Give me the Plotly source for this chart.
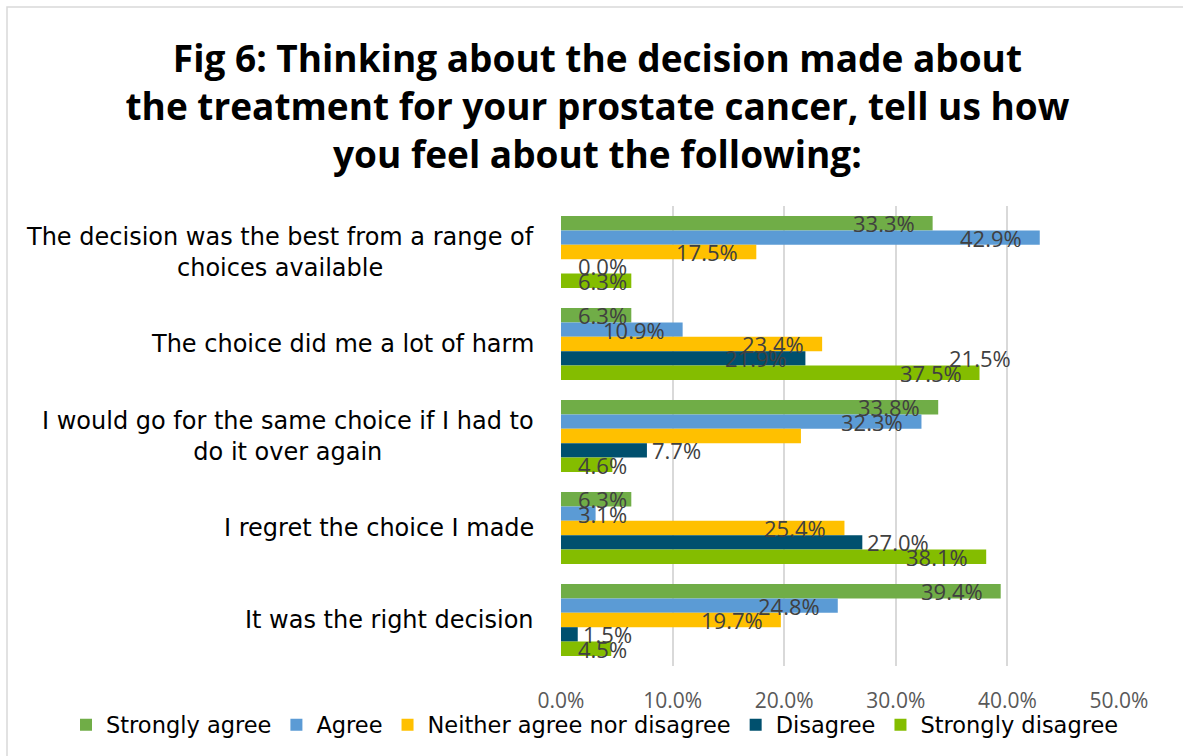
import plotly.graph_objects as go

# Survey statements (top to bottom) and response shares in percent
statements = [
    "The decision was the best from a range of<br>choices available",
    "The choice did me a lot of harm",
    "I would go for the same choice if I had to<br>do it over again",
    "I regret the choice I made",
    "It was the right decision",
]
series_names = ["Strongly agree", "Agree", "Neither agree nor disagree", "Disagree", "Strongly disagree"]
strongly_agree = [33.3, 6.3, 33.8, 6.3, 39.4]
agree = [42.9, 10.9, 32.3, 3.1, 24.8]
neither = [17.5, 23.4, 21.5, 25.4, 19.7]
disagree = [0.0, 21.9, 7.7, 27.0, 1.5]
strongly_disagree = [6.3, 37.5, 4.6, 38.1, 4.5]
x_ticks = [0, 10, 20, 30, 40, 50]
x_tick_labels = [f"{t:.1f}%" for t in x_ticks]

values = [strongly_agree, agree, neither, disagree, strongly_disagree]
colors = ["#70AD47", "#5B9BD5", "#FFC000", "#00506E", "#84BD00"]

# Figure geometry
W, H = 1183, 756
ML, MR, MT, MB = 561, 64, 206, 90
plot_w = W - ML - MR
plot_h = H - MT - MB
x_max = 50
px_per_unit = plot_w / x_max
bargap = 0.217
n_series = len(series_names)
band = plot_h / len(statements)
bar_px = band * (1 - bargap) / n_series

label_font = dict(family="Open Sans", size=22, color="#404040")
cat_font = dict(family="DejaVu Sans", size=24, color="#000000")


def px_to_paper_x(px):
    return (px - ML) / plot_w


def px_to_paper_y(py):
    return (H - MB - py) / plot_h


fig = go.Figure()
for name, vals, col in zip(series_names, values, colors):
    fig.add_trace(go.Bar(
        y=statements, x=vals, name=name, orientation="h",
        marker=dict(color=col, line=dict(width=0)),
        hoverinfo="skip",
    ))


def text_width(s, size=22):
    w = 0.0
    for ch in s:
        if ch.isdigit():
            w += 0.572
        elif ch == ".":
            w += 0.26
        elif ch == "%":
            w += 0.84
        else:
            w += 0.55
    return w * size


# labels sitting just past the end of their bar
outside = {(0, 3), (2, 3), (3, 3), (4, 3)}
# label shown away from its own bar: (category, series) -> (row category, row series, x)
relocated = {(2, 2): (1, 3, 34.7)}

annotations = []
for si, vals in enumerate(values):
    for ci, v in enumerate(vals):
        txt = f"{v:.1f}%"
        row_ci, row_si = ci, si
        if (ci, si) in relocated:
            row_ci, row_si, xpos = relocated[(ci, si)]
            xanchor, xshift = "left", 0
        elif (ci, si) in outside:
            end_px = v * px_per_unit + 4
            xpos, xanchor, xshift = 0, "left", max(end_px, 16)
        else:
            right_px = v * px_per_unit - 17
            if right_px - text_width(txt) < 16:
                xpos, xanchor, xshift = 0, "left", 16
            else:
                xpos, xanchor, xshift = v, "right", -17
        annotations.append(dict(
            x=xpos, y=statements[row_ci], xref="x", yref="y",
            text=txt, showarrow=False, xanchor=xanchor, yanchor="middle",
            xshift=xshift, yshift=(2 - row_si) * bar_px,
            font=label_font, borderpad=0,
        ))

# category labels to the left of the axis, centred line by line
for s in statements:
    annotations.append(dict(
        x=0, y=s, xref="paper", yref="y", text=s, showarrow=False,
        xanchor="right", yanchor="middle", xshift=-25, align="center",
        font=cat_font,
    ))

# outer chart frame
fig.add_shape(
    type="rect", xref="paper", yref="paper",
    x0=px_to_paper_x(7), x1=px_to_paper_x(W + 20),
    y0=px_to_paper_y(H + 20), y1=px_to_paper_y(7),
    line=dict(color="#D9D9D9", width=1.5), fillcolor="rgba(0,0,0,0)", layer="below",
)

fig.update_layout(
    width=W, height=H,
    margin=dict(l=ML, r=MR, t=MT, b=MB, pad=0, autoexpand=False),
    paper_bgcolor="white", plot_bgcolor="white",
    barmode="group", bargap=bargap, bargroupgap=0,
    title=dict(
        text="Fig 6: Thinking about the decision made about<br>"
             "the treatment for your prostate cancer, tell us how<br>"
             "you feel about the following:",
        x=0.505, xref="container", xanchor="center",
        y=1 - 72 / H, yref="container", yanchor="middle",
        font=dict(family="Open Sans", size=37, color="#000000", weight="bold"),
    ),
    xaxis=dict(
        range=[0, x_max], tickvals=x_ticks, ticktext=x_tick_labels,
        showgrid=True, gridcolor="#D9D9D9", gridwidth=1.5,
        zeroline=False, showline=False, ticks="",
        ticklabelstandoff=20,
        tickfont=dict(family="Open Sans", size=21, color="#595959"),
        fixedrange=True,
    ),
    yaxis=dict(
        autorange="reversed", showticklabels=False, showgrid=False,
        zeroline=False, showline=False, ticks="", fixedrange=True,
    ),
    legend=dict(
        orientation="h", xref="paper", yref="paper",
        x=px_to_paper_x(66), xanchor="left",
        y=px_to_paper_y(725), yanchor="middle",
        font=dict(family="DejaVu Sans", size=22.5, color="#000000"),
        itemwidth=30, tracegroupgap=0, traceorder="normal",
        bgcolor="rgba(0,0,0,0)",
    ),
    annotations=annotations,
    showlegend=True,
)

fig.write_html("out.html")
